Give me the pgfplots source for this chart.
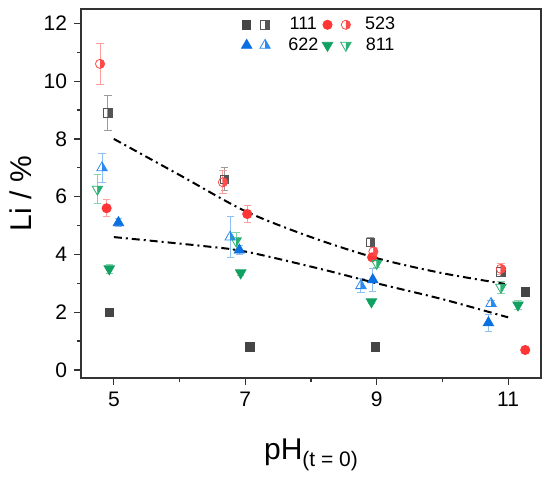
\documentclass[border=0pt]{standalone}
\usepackage{pgfplots}
\pgfplotsset{compat=1.18}
\usepackage{fontspec}
\setmainfont{Liberation Sans}
\definecolor{cgf}{HTML}{454545}
\definecolor{cgh}{HTML}{555555}
\definecolor{cge}{HTML}{9A9A9A}
\definecolor{crf}{HTML}{FF3535}
\definecolor{crh}{HTML}{FF4A4A}
\definecolor{cre}{HTML}{FF9E9E}
\definecolor{cbf}{HTML}{0A6FE0}
\definecolor{cbh}{HTML}{2A8AF0}
\definecolor{cbe}{HTML}{8CC0F5}
\definecolor{cnf}{HTML}{10A060}
\definecolor{cnh}{HTML}{2BB073}
\definecolor{cne}{HTML}{85D3AC}
\definecolor{framec}{HTML}{333333}

\pgfdeclareplotmark{hsquare}{%
  \pgfpathrectangle{\pgfpoint{0pt}{-\pgfplotmarksize}}{\pgfpoint{\pgfplotmarksize}{2\pgfplotmarksize}}\pgfusepathqfill
  \pgfpathrectangle{\pgfpoint{-\pgfplotmarksize}{-\pgfplotmarksize}}{\pgfpoint{2\pgfplotmarksize}{2\pgfplotmarksize}}\pgfusepathqstroke}
\pgfdeclareplotmark{hcircle}{%
  \pgfpathmoveto{\pgfqpoint{0pt}{\pgfplotmarksize}}\pgfpatharc{90}{-90}{\pgfplotmarksize}\pgfpathclose\pgfusepathqfill
  \pgfpathcircle{\pgfpointorigin}{\pgfplotmarksize}\pgfusepathqstroke}
\pgfdeclareplotmark{htri}{%
  \pgfpathmoveto{\pgfpoint{0pt}{\pgfplotmarksize}}\pgfpathlineto{\pgfpoint{0.866\pgfplotmarksize}{-0.5\pgfplotmarksize}}\pgfpathlineto{\pgfpoint{0pt}{-0.5\pgfplotmarksize}}\pgfpathclose\pgfusepathqfill
  \pgfpathmoveto{\pgfpoint{0pt}{\pgfplotmarksize}}\pgfpathlineto{\pgfpoint{-0.866\pgfplotmarksize}{-0.5\pgfplotmarksize}}\pgfpathlineto{\pgfpoint{0.866\pgfplotmarksize}{-0.5\pgfplotmarksize}}\pgfpathclose\pgfusepathqstroke}
\pgfdeclareplotmark{hdtri}{%
  \pgfpathmoveto{\pgfpoint{0pt}{-\pgfplotmarksize}}\pgfpathlineto{\pgfpoint{0.866\pgfplotmarksize}{0.5\pgfplotmarksize}}\pgfpathlineto{\pgfpoint{0pt}{0.5\pgfplotmarksize}}\pgfpathclose\pgfusepathqfill
  \pgfpathmoveto{\pgfpoint{0pt}{-\pgfplotmarksize}}\pgfpathlineto{\pgfpoint{-0.866\pgfplotmarksize}{0.5\pgfplotmarksize}}\pgfpathlineto{\pgfpoint{0.866\pgfplotmarksize}{0.5\pgfplotmarksize}}\pgfpathclose\pgfusepathqstroke}

\pgfplotsset{
  ebar/.style={error bars/.cd, y dir=both, y explicit,
    error bar style={color=#1, line width=0.5pt},
    error mark options={color=#1, line width=0.5pt, mark size=1.8pt, rotate=90}},
}

\begin{document}
\begin{tikzpicture}
\begin{axis}[
  scale only axis,
  width=230pt, height=184.5pt,
  xmin=4.5, xmax=11.5, ymin=-0.28, ymax=12.5,
  axis lines=box, clip=false,
  xtick={5,7,9,11}, minor x tick num=1,
  ytick={0,2,4,6,8,10,12}, minor y tick num=1,
  tick align=outside, tick pos=left,
  major tick length=3.5pt, minor tick length=1.8pt,
  every tick/.style={framec, line width=0.6pt},
  axis line style={draw=framec, line width=0.9pt},
  /pgf/number format/assume math mode=true,
  tick label style={font=\fontsize{10.5}{12}\selectfont},
  xlabel={\fontsize{15}{17}\selectfont pH\raisebox{-3.5pt}{\fontsize{10.5}{12}\selectfont(t = 0)}},
  ylabel={\fontsize{15}{17}\selectfont Li / \%},
  xlabel style={at={(axis description cs:0.5,0)}, anchor=base, yshift=-41pt},
  ylabel style={at={(axis description cs:0,0.5)}, anchor=center, yshift=30pt},
  legend columns=4,
  legend style={draw=none, fill=none, inner sep=0pt, font=\fontsize{9}{10}\selectfont,
    at={(axis description cs:0.348,1)}, anchor=north west, yshift=-1.8pt,
    row sep=-1.5pt, column sep=0pt},
  legend entries={\hspace{2.5pt},\hspace{7pt}111\hspace{5pt},\hspace{3pt},\hspace{5pt}523,\hspace{2.5pt},\hspace{7pt}622\hspace{5pt},\hspace{3pt},\hspace{5pt}811},
]
% 111 filled
\addplot[only marks, mark=square*, mark size=2.1pt, color=cgf, ebar=cge]
  table[x=x, y=y, y error=e] {
x y e
4.93 2.0 0
7.07 0.8 0
8.98 0.8 0
11.26 2.7 0.15
};
% 111 half
\addplot[only marks, mark=hsquare, mark size=2.1pt, color=cgh, ebar=cge]
  table[x=x, y=y, y error=e] {
x y e
4.91 8.9 0.6
6.68 6.6 0.4
8.9 4.42 0.15
10.89 3.4 0.15
};
% 523 filled
\addplot[only marks, mark=*, mark size=2.3pt, color=crf, ebar=cre]
  table[x=x, y=y, y error=e] {
x y e
4.89 5.6 0.3
7.03 5.4 0.3
8.93 3.9 0.1
11.26 0.69 0
};
% 523 half
\addplot[only marks, mark=hcircle, mark size=2.3pt, color=crh, ebar=cre]
  table[x=x, y=y, y error=e] {
x y e
4.79 10.6 0.7
6.66 6.5 0.4
8.95 4.1 0.15
10.89 3.5 0.2
};
% 622 filled
\addplot[only marks, mark=triangle*, mark size=3pt, color=cbf, ebar=cbe]
  table[x=x, y=y, y error=e] {
x y e
5.07 5.1 0.15
6.91 4.15 0.15
8.94 3.12 0.4
10.7 1.63 0.3
};
% 622 half
\addplot[only marks, mark=htri, mark size=3pt, color=cbh, ebar=cbe]
  table[x=x, y=y, y error=e] {
x y e
4.82 7.0 0.5
6.77 4.6 0.7
8.76 2.92 0.25
10.74 2.3 0.1
};
% 811 filled
\addplot[only marks, mark=triangle*, mark size=3pt, mark options={rotate=180}, color=cnf, ebar=cne]
  table[x=x, y=y, y error=e] {
x y e
4.93 3.5 0.15
6.93 3.36 0.1
8.92 2.36 0.05
11.15 2.25 0.15
};
% 811 half
\addplot[only marks, mark=hdtri, mark size=3pt, color=cnh, ebar=cne]
  table[x=x, y=y, y error=e] {
x y e
4.75 6.26 0.5
6.86 4.47 0.3
9.0 3.69 0.15
10.89 2.86 0.2
};
% fit lines
\addplot[forget plot, black, line width=1pt, dash pattern=on 4pt off 2pt on 1pt off 2pt, smooth]
  coordinates {(5.0,8.0) (6.0,6.75) (7.0,5.5) (8.0,4.6) (9.0,3.87) (10.0,3.35) (10.95,2.98)};
\addplot[forget plot, black, line width=1pt, dash pattern=on 4pt off 2pt on 1pt off 2pt, smooth]
  coordinates {(5.0,4.6) (6.32,4.3) (7.0,4.1) (8.14,3.5) (9.0,3.0) (10.0,2.45) (11.0,1.82)};
% frame (top and right sides)
\addplot[forget plot, framec, line width=0.9pt, mark=none]
  coordinates {(4.5,-0.28) (4.5,12.5) (11.5,12.5) (11.5,-0.28) (4.5,-0.28)};
\coordinate (bl) at (rel axis cs:0,0);
\coordinate (tr) at (rel axis cs:1,1);
\end{axis}
\path ([shift={(-40.5pt,-49.5pt)}]bl) rectangle ([shift={(4.5pt,4.5pt)}]tr);
\end{tikzpicture}
\end{document}
